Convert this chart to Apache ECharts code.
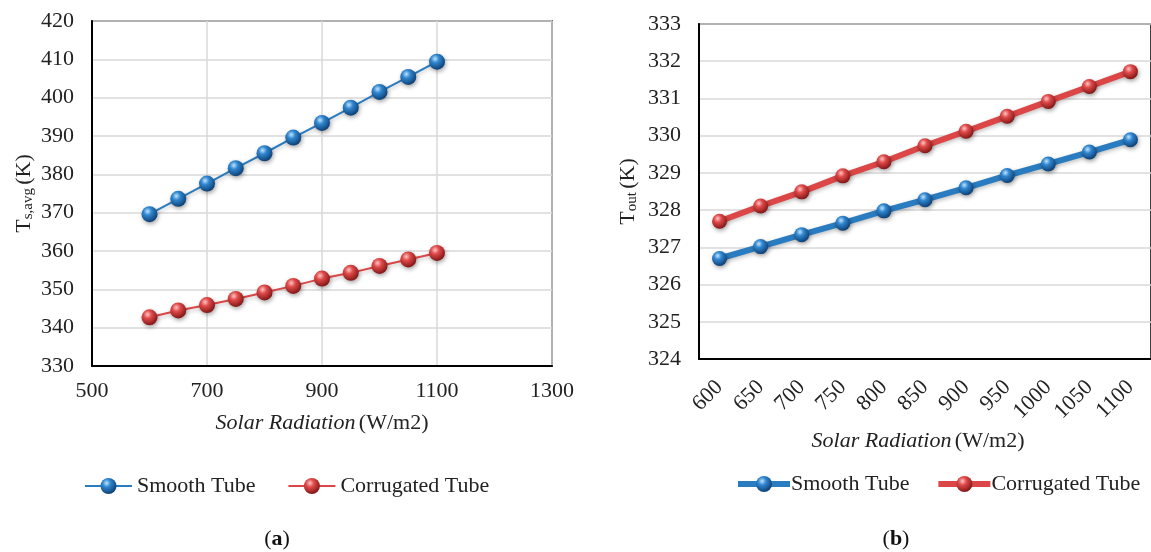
<!DOCTYPE html>
<html>
<head>
<meta charset="utf-8">
<script src="https://cdn.jsdelivr.net/npm/echarts@6/dist/echarts.min.js"></script>
<style>
html,body{margin:0;padding:0;background:#fff;}
#chart{width:1151px;height:552px;}
</style>
</head>
<body>
<div id="chart"></div>
<script>
// ---- Data ----
const radiationA = [600, 650, 700, 750, 800, 850, 900, 950, 1000, 1050, 1100];
const smoothA = [369.6, 373.6, 377.6, 381.6, 385.5, 389.6, 393.4, 397.4, 401.5, 405.4, 409.4];
const corrugatedA = [342.7, 344.5, 345.9, 347.5, 349.2, 350.9, 352.8, 354.3, 356.1, 357.8, 359.5];

const radiationB = ['600', '650', '700', '750', '800', '850', '900', '950', '1000', '1050', '1100'];
const smoothB = [326.7, 327.02, 327.34, 327.65, 327.98, 328.28, 328.6, 328.93, 329.24, 329.56, 329.89];
const corrugatedB = [327.7, 328.11, 328.49, 328.92, 329.3, 329.73, 330.12, 330.52, 330.92, 331.32, 331.72];

const seriesNames = ['Smooth Tube', 'Corrugated Tube'];

// ---- Styles ----
const FONT = 'Liberation Serif';
const FS = 22;
const blueLine = '#2a7cc0';
const redLine = '#dc4646';
function ball(base, light, dark) {
  return {
    type: 'radial', x: 0.38, y: 0.32, r: 0.72,
    colorStops: [
      { offset: 0, color: light },
      { offset: 0.35, color: base },
      { offset: 1, color: dark }
    ]
  };
}
const blueBall = ball('#2f86cf', '#bfe3ff', '#0b3a6e');
const redBall = ball('#e04a4a', '#ffc4c4', '#7c1212');

function mkSeries(name, xi, data, lineColor, ballColor, width, size) {
  return {
    name: name, type: 'line', xAxisIndex: xi, yAxisIndex: xi,
    data: data, symbol: 'circle', symbolSize: size,
    lineStyle: { color: lineColor, width: width, shadowBlur: 4, shadowColor: 'rgba(0,0,0,0.25)', shadowOffsetY: 2 },
    itemStyle: { color: ballColor, borderWidth: 0, shadowBlur: 4, shadowColor: 'rgba(0,0,0,0.35)', shadowOffsetX: 1, shadowOffsetY: 2 },
    emphasis: { disabled: true },
    animation: false, z: 3
  };
}

const axisLabelStyle = { fontFamily: FONT, fontSize: FS, color: '#222' };
const nameRich = {
  i: { fontFamily: FONT, fontSize: FS, fontStyle: 'italic', color: '#222' },
  n: { fontFamily: FONT, fontSize: FS, color: '#222' },
  s: { fontFamily: FONT, fontSize: 15, color: '#222', padding: [8, 0, 0, 0] }
};

const chart = echarts.init(document.getElementById('chart'), null, { renderer: 'canvas' });
chart.setOption({
  animation: false,
  backgroundColor: '#fff',
  title: [
    { text: '({b|a})', left: 272, top: 523, textAlign: 'center',
      textStyle: { fontFamily: FONT, fontSize: FS, fontWeight: 'normal', color: '#111',
        rich: { b: { fontFamily: FONT, fontSize: FS, fontWeight: 'bold', color: '#111' } } } },
    { text: '({b|b})', left: 891, top: 523, textAlign: 'center',
      textStyle: { fontFamily: FONT, fontSize: FS, fontWeight: 'normal', color: '#111',
        rich: { b: { fontFamily: FONT, fontSize: FS, fontWeight: 'bold', color: '#111' } } } }
  ],
  legend: [
    { data: seriesNames, left: 84, top: 475, padding: 0, itemWidth: 47, itemHeight: 20, itemGap: 32,
      textStyle: { fontFamily: FONT, fontSize: FS, color: '#222' },
      lineStyle: { width: 2 }, selectedMode: false },
    { data: seriesNames, left: 735, top: 473, padding: 0, itemWidth: 52, itemHeight: 20, itemGap: 26,
      textStyle: { fontFamily: FONT, fontSize: FS, color: '#222', padding: [0, 0, 0, -4] },
      lineStyle: { width: 6 }, selectedMode: false }
  ],
  grid: [
    { left: 92, top: 21, width: 460, height: 345, show: true, borderColor: '#000', borderWidth: 1.5, backgroundColor: '#fff' },
    { left: 699, top: 24, width: 459, height: 335, show: true, borderColor: '#000', borderWidth: 1.5, backgroundColor: '#fff' }
  ],
  xAxis: [
    { type: 'value', gridIndex: 0, min: 500, max: 1300, interval: 200,
      axisLine: { show: true, lineStyle: { color: '#000', width: 2 } },
      axisTick: { show: false },
      splitLine: { show: true, lineStyle: { color: '#d9d9d9', width: 1.5 } },
      axisLabel: Object.assign({ margin: 14, formatter: v => String(v) }, axisLabelStyle),
      name: '{i|Solar Radiation} {n|(W/m2)}', nameLocation: 'middle', nameGap: 46,
      nameTextStyle: { rich: nameRich } },
    { type: 'category', gridIndex: 1, data: radiationB, boundaryGap: true,
      axisLine: { show: true, lineStyle: { color: '#000', width: 2 } },
      axisTick: { show: false },
      splitLine: { show: false },
      axisLabel: Object.assign({ rotate: 45, margin: 25, interval: 0 }, axisLabelStyle),
      name: '{i|Solar Radiation} {n|(W/m2)}', nameLocation: 'middle', nameGap: 67,
      nameTextStyle: { rich: nameRich, padding: [0, 14, 0, 0] } }
  ],
  yAxis: [
    { type: 'value', gridIndex: 0, min: 330, max: 420, interval: 10,
      axisLine: { show: true, lineStyle: { color: '#000', width: 2 } },
      axisTick: { show: false },
      splitLine: { show: true, lineStyle: { color: '#d9d9d9', width: 1.5 } },
      axisLabel: Object.assign({ margin: 18 }, axisLabelStyle),
      name: '{n|T}{s|s,avg} {n|(K)}', nameLocation: 'middle', nameGap: 56, nameRotate: 90,
      nameTextStyle: { rich: nameRich } },
    { type: 'value', gridIndex: 1, min: 324, max: 333, interval: 1,
      axisLine: { show: true, lineStyle: { color: '#000', width: 2 } },
      axisTick: { show: false },
      splitLine: { show: true, lineStyle: { color: '#d9d9d9', width: 1.5 } },
      axisLabel: Object.assign({ margin: 18 }, axisLabelStyle),
      name: '{n|T}{s|out} {n|(K)}', nameLocation: 'middle', nameGap: 59, nameRotate: 90,
      nameTextStyle: { rich: nameRich } }
  ],
  series: [
    mkSeries(seriesNames[0], 0, radiationA.map((x, i) => [x, smoothA[i]]), blueLine, blueBall, 2, 16),
    mkSeries(seriesNames[1], 0, radiationA.map((x, i) => [x, corrugatedA[i]]), redLine, redBall, 2, 16),
    mkSeries(seriesNames[0], 1, smoothB, blueLine, blueBall, 6, 15),
    mkSeries(seriesNames[1], 1, corrugatedB, redLine, redBall, 6, 15)
  ]
});
</script>
</body>
</html>
